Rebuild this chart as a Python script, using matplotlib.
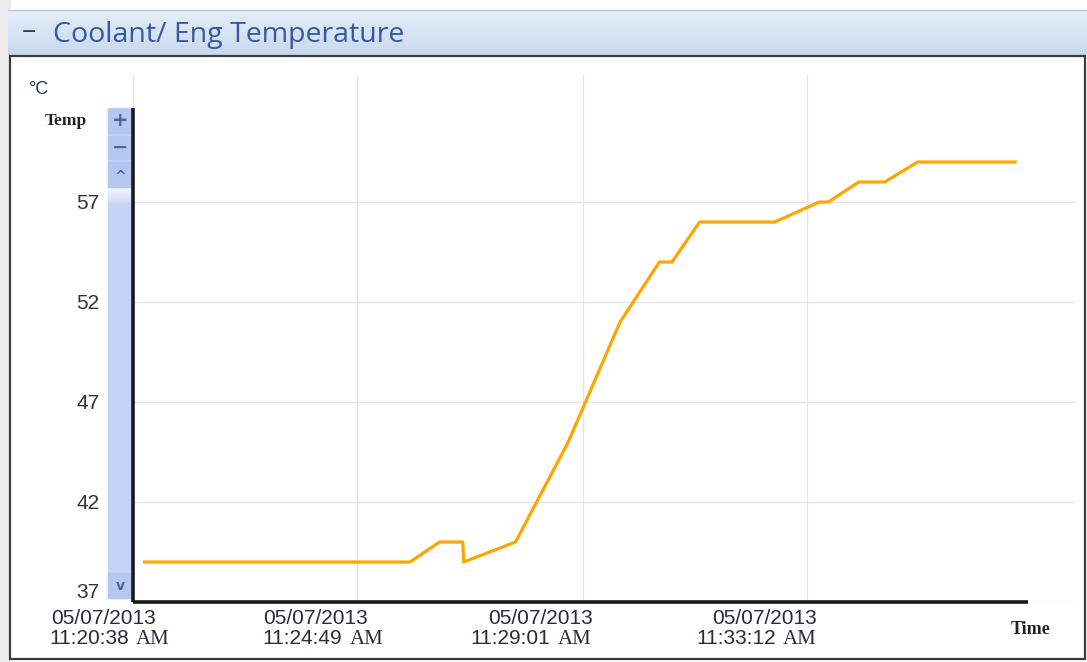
import matplotlib
matplotlib.use("Agg")
import matplotlib.pyplot as plt
import matplotlib.patches as mpatches
import matplotlib.dates as mdates
import numpy as np
import pandas as pd

W, H = 1087, 662

# ------ data ------
day = "2013-05-07"
sample_times = ["11:20:51", "11:25:48", "11:26:21", "11:26:47", "11:26:48", "11:27:46",
                "11:28:45", "11:29:43", "11:30:27", "11:30:41", "11:31:12", "11:32:36",
                "11:33:26", "11:33:36", "11:34:10", "11:34:39", "11:35:16", "11:37:05"]
temps = [39, 39, 40, 40, 39, 40, 45, 51, 54, 54, 56, 56, 57, 57, 58, 58, 59, 59]
x_start, x_end = "11:20:38", "11:38:12"
tick_times = ["11:20:38", "11:24:49", "11:29:01", "11:33:12"]
tick_dates = ["05/07/2013", "05/07/2013", "05/07/2013", "05/07/2013"]
y_ticks = [37, 42, 47, 52, 57]
y_min, y_max = 37, 63.35
# ------ /data ------

def ts(t):
    return mdates.date2num(pd.Timestamp(day + " " + t).to_pydatetime())

x = [ts(t) for t in sample_times]
ticks = [ts(t) for t in tick_times]

fig = plt.figure(figsize=(W / 100, H / 100), dpi=100)
fig.patch.set_facecolor("white")

# ------ background / window chrome in pixel coords ------
bg = fig.add_axes([0, 0, 1, 1])
bg.axis("off")
bg.set_zorder(-1)

bg.add_patch(mpatches.Rectangle((0, 0), 10, H, color="#ececec"))
grad = np.linspace(0, 1, 64).reshape(-1, 1)
bg.imshow(grad, extent=(8, W, 55, 10), cmap=matplotlib.colors.LinearSegmentedColormap.from_list(
    "hdr", ["#e6eef8", "#c8d9ee"]), aspect="auto", zorder=1)
bar = np.linspace(0, 1, 32).reshape(-1, 1)
bg.imshow(bar, extent=(108, 132, 205, 188), cmap=matplotlib.colors.LinearSegmentedColormap.from_list(
    "sb", ["#f4f7fd", "#c6d4f6"]), aspect="auto", zorder=4)
bg.set_xlim(0, W)
bg.set_ylim(H, 0)

bg.plot([8, W], [10, 10], color="#b9c9dc", lw=1, zorder=2)
bg.add_patch(mpatches.Rectangle((10, 56), W - 12, 603, facecolor="white",
                                edgecolor="#3c3c3c", lw=1.6, zorder=2))
bg.text(22, 34, "\u2212", fontsize=18, color="#303a50", va="center", ha="left",
        family="Open Sans", zorder=3)
bg.text(53, 35, "Coolant/ Eng Temperature", fontsize=20.5, color="#3558a0",
        va="center", ha="left", family="Open Sans", zorder=3)

bg.text(29, 90, "\u00b0C", fontsize=13, color="#1f3560", va="center", ha="left",
        family="Liberation Sans", zorder=3)
bg.text(45, 121, "Temp", fontsize=12.5, fontweight="bold", color="#222222",
        va="center", ha="left", family="Liberation Serif", zorder=3)
bg.text(1031, 629, "Time", fontsize=13, fontweight="bold", color="#222222",
        va="center", ha="center", family="Liberation Serif", zorder=3)

# scrollbar
bg.add_patch(mpatches.Rectangle((108, 108), 24, 490, color="#c6d4f6", zorder=3))
for y0, h, glyph in [(109, 24, "+"), (136, 23, "\u2212"), (162, 25, "^"), (573, 25, "v")]:
    bg.add_patch(mpatches.Rectangle((108, y0), 24, h, color="#b5c7f0", zorder=4))
    bg.text(120, y0 + h / 2 + (3 if glyph == "^" else 0), glyph,
            fontsize=14 if glyph in "+\u2212" else 10,
            fontweight="bold", color="#4e6593", ha="center", va="center",
            family="DejaVu Sans", zorder=5)

# ------ plot axes ------
ax = fig.add_axes([133 / W, 1 - 602 / H, (1075 - 133) / W, (602 - 75) / H])
ax.set_facecolor("white")
ax.set_xlim(ts(x_start), ts(x_end))
ax.set_ylim(y_min, y_max)
for s in ax.spines.values():
    s.set_visible(False)

ax.set_xticks(ticks)
ax.set_yticks(y_ticks)
ax.grid(True, color="#e4e4e4", lw=1)
ax.tick_params(length=0, labelbottom=False)
ax.set_yticklabels([str(v) for v in y_ticks], fontsize=15, color="#333333",
                   family="Liberation Sans")
ax.tick_params(axis="y", pad=24)
# lift the bottom label a touch, as in the source widget
ax.get_yticklabels()[0].set_verticalalignment("bottom")

ax.plot(x, temps, color="#ffa500", lw=2.3, zorder=3)

# black axis lines
ax.plot([0, 0.950], [0, 0], transform=ax.transAxes, color="#1a1a1a", lw=2.6,
        clip_on=False, zorder=4, solid_capstyle="butt")
ax.plot([0, 0], [0, 0.937], transform=ax.transAxes, color="#1a1a1a", lw=2.6,
        clip_on=False, zorder=4, solid_capstyle="butt")

# tick labels: date line (sans), clock line (sans) + AM (serif)
date_dx = [-29, -42, -42, -42]
split_dx = [0, -11, -28, -27]
xt = ax.get_xaxis_transform()
for i, t in enumerate(ticks):
    ax.annotate(tick_dates[i], xy=(t, 0), xycoords=xt, xytext=(date_dx[i], -17),
                textcoords="offset pixels", ha="center", va="center", fontsize=15,
                color="#2a2a40", family="Liberation Sans", annotation_clip=False)
    ax.annotate(tick_times[i], xy=(t, 0), xycoords=xt, xytext=(split_dx[i] - 4, -36),
                textcoords="offset pixels", ha="right", va="center", fontsize=15,
                color="#2a2a40", family="Liberation Sans", annotation_clip=False)
    ax.annotate("AM", xy=(t, 0), xycoords=xt, xytext=(split_dx[i] + 3, -37),
                textcoords="offset pixels", ha="left", va="center", fontsize=15,
                color="#2a2a40", family="Liberation Serif", annotation_clip=False)

fig.savefig("out.png", dpi=100)
